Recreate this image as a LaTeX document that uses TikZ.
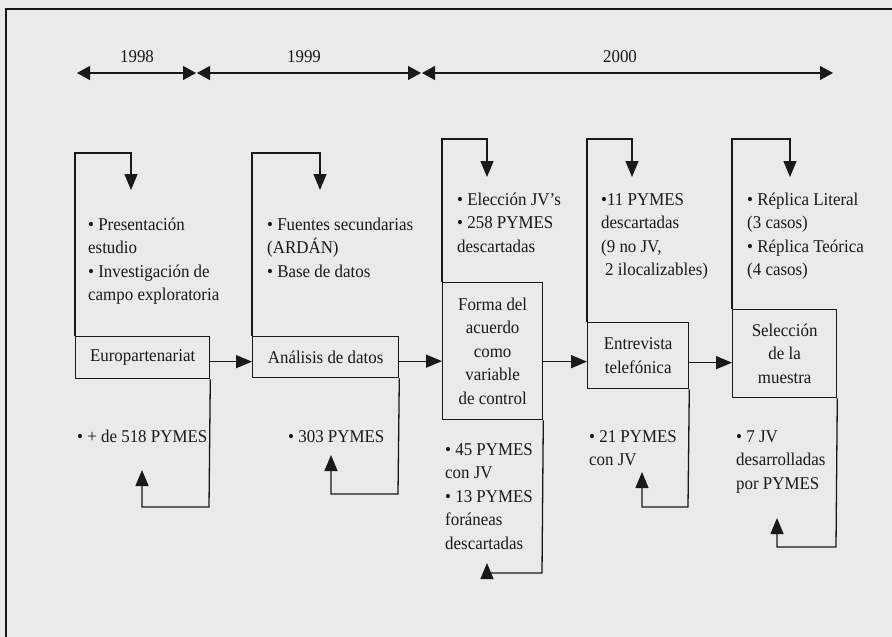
\documentclass[tikz,border=0pt]{standalone}
\usepackage{fontspec}
\setmainfont[FakeStretch=0.94]{Liberation Serif}
\usetikzlibrary{arrows.meta}
\definecolor{bg}{RGB}{234,234,234}
\definecolor{ink}{RGB}{25,25,25}
\begin{document}
\begin{tikzpicture}[x=1pt,y=-1pt,
  every node/.style={text=ink},
  tf/.style={font=\fontsize{18}{23.5}\selectfont},
  box/.style={draw=ink, line width=1.3pt, inner sep=0pt, align=center, anchor=north west, tf},
  txt/.style={anchor=north west, yshift=16.45pt, align=left, inner sep=0pt, tf},
  yr/.style={inner sep=0pt, tf},
  conn/.style={draw=ink, line width=1.3pt},
  arr/.style={conn, -{Triangle[length=16pt,width=13pt]}},
  tl/.style={draw=ink, line width=1.1pt, {Triangle[length=13pt,width=14pt]}-{Triangle[length=13pt,width=14pt]}}
]
\useasboundingbox (0,0) rectangle (892,637);
\fill[bg] (0,0) rectangle (892,637);
% outer frame (cropped on right and bottom)
\draw[ink, line width=1.8pt] (6,650) -- (6,9) -- (900,9);

% timeline
\coordinate (t0) at (77,73);
\coordinate (t1) at (196,73);
\coordinate (t2) at (197,73);
\coordinate (t3) at (421,73);
\coordinate (t4) at (422,73);
\coordinate (t5) at (833,73);
\draw[tl] (t0) -- (t1);
\draw[tl] (t2) -- (t3);
\draw[tl] (t4) -- (t5);
\node[yr] (y1) at (137,57) {1998};
\node[yr] (y2) at (304,57) {1999};
\node[yr] (y3) at (620,57) {2000};

% boxes
\node[box, minimum width=134pt, minimum height=42pt] (b1) at (75,336) {Europartenariat};
\node[box, minimum width=146pt, minimum height=41pt] (b2) at (252,336) {Análisis de datos};
\node[box, minimum width=100pt, minimum height=137pt] (b3) at (442,282) {Forma del\\acuerdo\\como\\variable\\de control};
\node[box, minimum width=101pt, minimum height=66pt] (b4) at (587,322) {Entrevista\\telefónica};
\node[box, minimum width=104pt, minimum height=88pt] (b5) at (732,309) {Selección\\de la\\muestra};

% connectors between boxes
\draw[arr] ([yshift=-4pt]b1.east) -- ([yshift=-4pt]b1.east -| b2.west);
\draw[arr] ([yshift=-4pt]b2.east) -- ([yshift=-4pt]b2.east -| b3.west);
\draw[arr] ([yshift=-6pt]b3.east |- b4.center) -- ([yshift=-6pt]b4.west);
\draw[arr] ([yshift=-7pt]b4.east) -- ([yshift=-7pt]b4.east -| b5.west);

% top loops
\coordinate (a1) at (131,190);
\coordinate (a2) at (320,190);
\coordinate (a3) at (487,177);
\coordinate (a4) at (632,177);
\coordinate (a5) at (790,177);
\draw[arr] (b1.north west) -- (75,153) -| (a1);
\draw[arr] (b2.north west) -- (252,153) -| (a2);
\draw[arr] (b3.north west) -- (442,139) -| (a3);
\draw[arr] (b4.north west) -- (587,139) -| (a4);
\draw[arr] (b5.north west) -- (732,139) -| (a5);

% bottom loops
\coordinate (c1) at (142,470);
\coordinate (c2) at (331,455);
\coordinate (c3) at (487,563);
\coordinate (c4) at (642,472);
\coordinate (c5) at (777,518);
\draw[arr] (b1.south east) -- (209,507) -| (c1);
\draw[arr] (b2.south east) -- (398,494) -| (c2);
\draw[arr] (b3.south east) -- (542,573) -| (c3);
\draw[arr] (b4.south east) -- (688,507) -| (c4);
\draw[arr] (b5.south east) -- (836,547) -| (c5);

% texts above
\node[txt] (s1) at (88,230) {\strut• Presentación\\estudio\\• Investigación de\\campo exploratoria};
\node[txt] (s2) at (267,230) {\strut• Fuentes secundarias\\(ARDÁN)\\• Base de datos};
\node[txt] (s3) at (457,205) {\strut• Elección JV's\\• 258 PYMES\\descartadas};
\node[txt] (s4) at (601,205) {\strut•11 PYMES\\descartadas\\(9 no JV,\\\hspace*{4pt}2 ilocalizables)};
\node[txt] (s5) at (747,205) {\strut• Réplica Literal\\(3 casos)\\• Réplica Teórica\\(4 casos)};

% texts below
\node[txt] (u1) at (77,442) {\strut• + de 518 PYMES};
\node[txt] (u2) at (288,442) {\strut• 303 PYMES};
\node[txt] (u3) at (445,455) {\strut• 45 PYMES\\con JV\\• 13 PYMES\\foráneas\\descartadas};
\node[txt] (u4) at (589,442) {\strut• 21 PYMES\\con JV};
\node[txt] (u5) at (736,442) {\strut• 7 JV\\desarrolladas\\por PYMES};
\end{tikzpicture}
\end{document}
